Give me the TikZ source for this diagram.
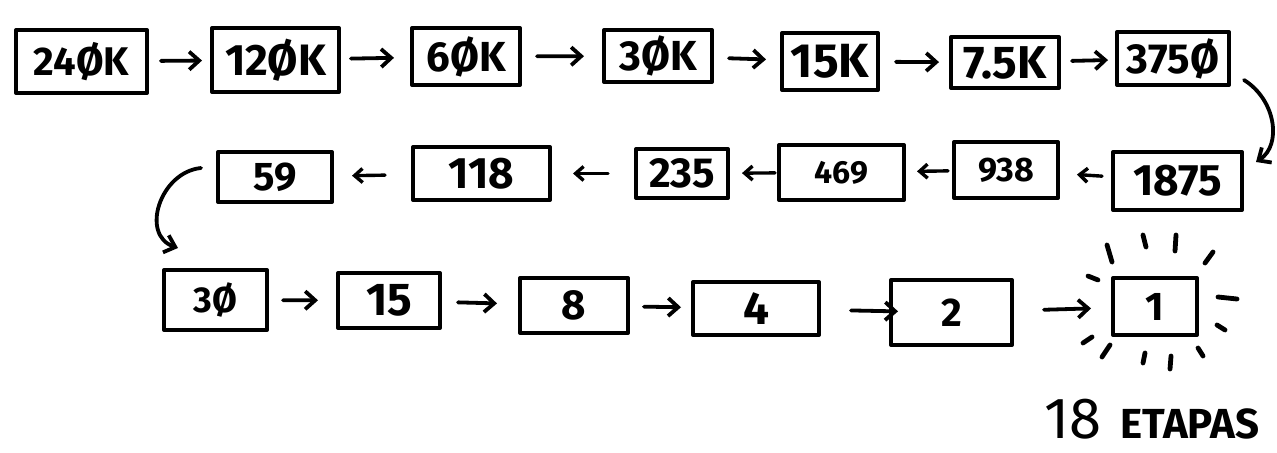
\documentclass[tikz,border=0pt]{standalone}
\usepackage{fontspec}
\setmainfont{Fira Sans}
\usetikzlibrary{arrows.meta,calc}
\newcommand\myfs[1]{\fontsize{#1}{#1}\selectfont\bfseries}
\tikzset{
  box/.style={draw, line width=2pt, inner sep=0pt, line join=round},
  arr/.style={line width=1.9pt, line cap=round, line join=round,
    -{Straight Barb[length=5pt,width=9pt,line width=1.9pt]}},
  arrs/.style={line width=1.7pt, line cap=round, line join=round,
    -{Straight Barb[length=4pt,width=7pt,line width=1.7pt]}},
  ray/.style={line width=2.4pt, line cap=round}
}
\begin{document}
\begin{tikzpicture}[x=0.5pt,y=-0.5pt]
\useasboundingbox (0,0) rectangle (1277,453);
\fill[white] (0,0) rectangle (1277,453);
% row 1
\node[box, minimum width=65.5pt, minimum height=31.5pt, font=\myfs{20}] (a1) at (81.5,61.5) {24ØK};
\node[box, minimum width=63.5pt, minimum height=32pt, font=\myfs{22}] (a2) at (275.5,60) {12ØK};
\node[box, minimum width=54pt, minimum height=28.5pt, font=\myfs{21}] (a3) at (466,56.5) {6ØK};
\node[box, minimum width=54pt, minimum height=26pt, font=\myfs{21}] (a4) at (658,56) {3ØK};
\node[box, minimum width=48pt, minimum height=28.5pt, font=\myfs{24}] (a5) at (830,61.5) {15K};
\node[box, minimum width=54pt, minimum height=25.5pt, font=\myfs{23}] (a6) at (1005,62.5) {7.5K};
\node[box, minimum width=56pt, minimum height=26.5pt, font=\myfs{21}] (a7) at (1173,58.5) {375Ø};
% row 2
\node[box, minimum width=64.5pt, minimum height=29pt, font=\myfs{22}] (b1) at (1177.5,181) {1875};
\node[box, minimum width=52pt, minimum height=28pt, font=\myfs{17}] (b2) at (1006,170) {938};
\node[box, minimum width=62.5pt, minimum height=27.5pt, font=\myfs{16}] (b3) at (841.5,172.5) {469};
\node[box, minimum width=46pt, minimum height=24.5pt, font=\myfs{21}] (b4) at (682,173.5) {235};
\node[box, minimum width=68.5pt, minimum height=26.5pt, font=\myfs{22}] (b5) at (481.5,173.5) {118};
\node[box, minimum width=57pt, minimum height=25pt, font=\myfs{20}] (b6) at (275,177) {59};
% row 3
\node[box, minimum width=51.5pt, minimum height=30pt, font=\myfs{18}] (c1) at (215.5,300) {3Ø};
\node[box, minimum width=51pt, minimum height=27.5pt, font=\myfs{23}] (c2) at (389,300.5) {15};
\node[box, minimum width=54pt, minimum height=27.5pt, font=\myfs{21}] (c3) at (574,305.5) {8};
\node[box, minimum width=63pt, minimum height=26.5pt, font=\myfs{23}] (c4) at (756,308.5) {4};
\node[box, minimum width=60.5pt, minimum height=32.5pt, font=\myfs{20}] (c5) at (951.5,312.5) {2};
\node[box, minimum width=42pt, minimum height=28.5pt, font=\myfs{20}] (c6) at (1155,306.5) {1};
% label
\node[anchor=base west, inner sep=0pt, font=\fontsize{29}{29}\selectfont] (t18) at (1044,438) {18};
\node[anchor=base west, inner sep=0pt, font=\myfs{21}] (tet) at (1120,438) {ETAPAS};
% row 1 arrows
\draw[arr, shorten <=6pt, shorten >=4pt] (a1) -- (a2);
\draw[arr, shorten <=5pt, shorten >=8pt] (a2) -- (a3);
\draw[arr, shorten <=7.5pt, shorten >=9pt] (a3) -- (a4);
\draw[arr, shorten <=7.5pt, shorten >=7pt] (a4) -- (a5);
\draw[arr, shorten <=8pt, shorten >=5pt] (a5) -- (a6);
\draw[arr, shorten <=5.5pt, shorten >=3.5pt] (a6) -- (a7);
% turn 1
\draw[arr] ($(a7.south east)+(13,-7)$) .. controls (1276,100) and (1282,145) .. ($(b1.north east)+(12,12)$);
% row 2 arrows
\draw[arrs, shorten <=4.5pt, shorten >=8.5pt] (b1) -- (b2);
\draw[arrs, shorten <=2pt, shorten >=5.5pt] (b2) -- (b3);
\draw[arrs, shorten <=1pt, shorten >=6pt] (b3) -- (b4);
\draw[arrs, shorten <=13pt, shorten >=10.5pt] (b4) -- (b5);
\draw[arrs, shorten <=13pt, shorten >=9pt] (b5) -- (b6);
% turn 2
\draw[arr] ($(b6.west)+(-15,-9)$) .. controls (160,172) and (140,235) .. ($(c1.north west)+(16,-20)$);
% row 3 arrows
\draw[arr, shorten <=7pt, shorten >=9pt] (c1) -- (c2);
\draw[arr, shorten <=8pt, shorten >=10.5pt] (c2) -- (c3);
\draw[arr, shorten <=7pt, shorten >=5pt] (c3) -- (c4);
\draw[arr, shorten <=15pt, shorten >=-4.5pt] (c4) -- (c5);
\draw[arr, shorten <=15pt, shorten >=10pt] (c5) -- (c6);
% rays around 1
\draw[ray] (1107,245) -- (1112,262);
\draw[ray] (1143,235) -- (1146,247);
\draw[ray] (1176,235) -- (1175,251);
\draw[ray] (1213,252) -- (1205,263);
\draw[ray] (1088,276) -- (1098,280);
\draw[ray] (1218,297) -- (1237,299);
\draw[ray] (1217,325) -- (1225,330);
\draw[ray] (1083,343) -- (1092,337);
\draw[ray] (1102,357) -- (1110,345);
\draw[ray] (1143,363) -- (1145,353);
\draw[ray] (1170,369) -- (1171,356);
\draw[ray] (1203,356) -- (1198,348);
\end{tikzpicture}
\end{document}
